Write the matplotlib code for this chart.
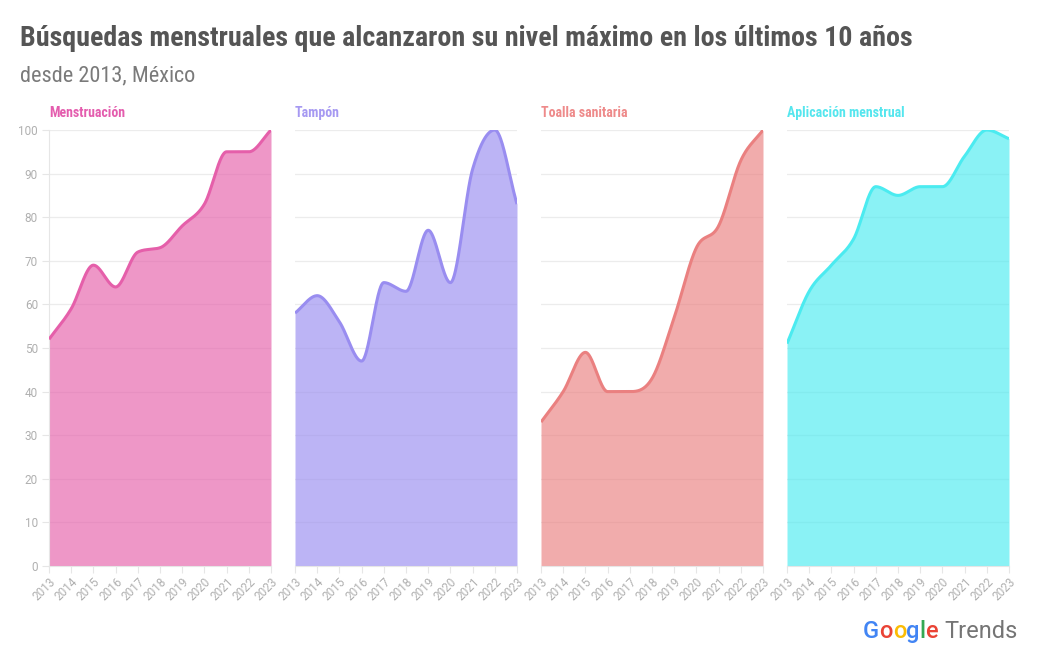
import matplotlib
matplotlib.use("Agg")
import matplotlib.pyplot as plt
from matplotlib import font_manager
import numpy as np

# data (Google Trends index, 2013-2023)
years = ["2013", "2014", "2015", "2016", "2017", "2018", "2019", "2020", "2021", "2022", "2023"]
menstruacion = [52, 59, 69, 64, 72, 73, 78, 83, 95, 95, 100]
tampon = [58, 62, 56, 47, 65, 63, 77, 65, 91, 100, 83]
toalla = [33, 40, 49, 40, 40, 43, 57, 73, 78, 93, 100]
aplicacion = [51, 63, 69, 75, 87, 85, 87, 87, 94, 100, 98]

titles = ["Menstruación", "Tampón", "Toalla sanitaria", "Aplicación menstrual"]
colors = ["#E55FAA", "#998DF0", "#EA8080", "#4BEBF0"]
title_colors = ["#E45DAE", "#A699F2", "#EE8A8A", "#55E6EE"]


def pick_font(names, fallback="Roboto"):
    """return first installed family from names"""
    for n in names:
        try:
            font_manager.findfont(n, fallback_to_default=False)
            return n
        except Exception:
            pass
    return fallback


narrow = pick_font(["Roboto Condensed", "Liberation Sans Narrow"])


def pchip(x, y, xs):
    """monotone cubic interpolation (like chart.js 'monotone')"""
    x = np.asarray(x, float)
    y = np.asarray(y, float)
    h = np.diff(x)
    d = np.diff(y) / h
    m = np.zeros_like(y)
    m[0], m[-1] = d[0], d[-1]
    for i in range(1, len(y) - 1):
        if d[i - 1] * d[i] <= 0:
            m[i] = 0
        else:
            m[i] = (d[i - 1] + d[i]) / 2
    for i in range(len(d)):
        if d[i] == 0:
            m[i] = m[i + 1] = 0
        else:
            a, b = m[i] / d[i], m[i + 1] / d[i]
            s = a * a + b * b
            if s > 9:
                t = 3 / np.sqrt(s)
                m[i], m[i + 1] = t * a * d[i], t * b * d[i]
    idx = np.clip(np.searchsorted(x, xs) - 1, 0, len(x) - 2)
    t = (xs - x[idx]) / h[idx]
    h00 = 2 * t**3 - 3 * t**2 + 1
    h10 = t**3 - 2 * t**2 + t
    h01 = -2 * t**3 + 3 * t**2
    h11 = t**3 - t**2
    return h00 * y[idx] + h10 * h[idx] * m[idx] + h01 * y[idx + 1] + h11 * h[idx] * m[idx + 1]


W, H = 1039, 669
fig = plt.figure(figsize=(W / 100, H / 100), dpi=100)

series = [menstruacion, tampon, toalla, aplicacion]
lefts = [49, 295, 541, 787]
xi = np.arange(len(years))
xs = np.linspace(0, len(years) - 1, 600)

for k in range(4):
    ax = fig.add_axes([lefts[k] / W, 1 - 566 / H, 222 / W, 436 / H])
    ys = pchip(xi, series[k], xs)
    ax.fill_between(xs, 0, ys, color=colors[k], alpha=0.65, lw=0, zorder=2)
    ax.plot(xs, ys, color=colors[k], lw=2.2, zorder=3, solid_capstyle="butt")
    ax.set_xlim(0, len(years) - 1)
    ax.set_ylim(0, 100)
    ax.set_yticks(range(0, 101, 10))
    ax.grid(axis="y", color="#ececec", lw=0.9, zorder=0)
    ax.set_axisbelow(True)
    for s in ["top", "right"]:
        ax.spines[s].set_visible(False)
    ax.spines["bottom"].set_color("#e6e6e6")
    ax.spines["left"].set_color("#e6e6e6")
    if k > 0:
        ax.spines["left"].set_visible(False)
        ax.tick_params(axis="y", length=0, labelleft=False)
    else:
        ax.tick_params(axis="y", length=5, color="#e6e6e6", labelcolor="#b0b0b0",
                       labelsize=8.5, pad=3)
        for lab in ax.get_yticklabels():
            lab.set_fontfamily("Roboto")
    ax.set_xticks(xi)
    ax.set_xticklabels(years, rotation=45, ha="right", rotation_mode="anchor",
                       fontsize=8.5, color="#b0b0b0", family="Roboto")
    ax.tick_params(axis="x", length=5, color="#e6e6e6", pad=2)
    ax.text(0, 1.022, titles[k], transform=ax.transAxes, fontsize=10,
            fontweight="bold", color=title_colors[k], family=narrow, va="bottom")

fig.text(20 / W, 1 - 46 / H, "Búsquedas menstruales que alcanzaron su nivel máximo en los últimos 10 años",
         fontsize=20.2, fontweight="bold", color="#555555", family=narrow, va="baseline")
fig.text(20 / W, 1 - 81 / H, "desde 2013, México", fontsize=16, color="#7a7a7a",
         family=narrow, va="baseline")

# Google Trends mark
x0 = 863 / W
yb = 1 - 638 / H
gcols = ["#4285F4", "#EA4335", "#FBBC05", "#4285F4", "#34A853", "#EA4335"]
r = fig.canvas.get_renderer()
for ch, c in zip("Google", gcols):
    t = fig.text(x0, yb, ch, fontsize=17, color=c, family="Roboto", va="baseline",
                 fontweight="medium")
    bb = t.get_window_extent(renderer=r)
    x0 += bb.width / W
x0 += 6 / W
fig.text(x0, yb, "Trends", fontsize=17, color="#757575", family="Roboto", va="baseline")

fig.savefig("out.png", dpi=100)
